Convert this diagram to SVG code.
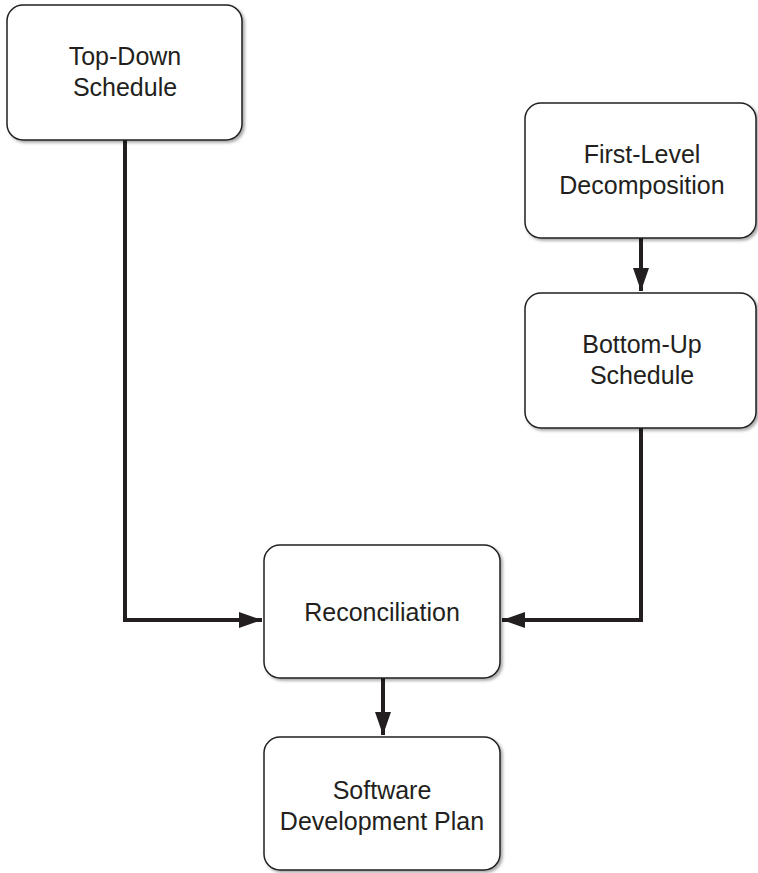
<svg xmlns="http://www.w3.org/2000/svg" width="758" height="873" viewBox="0 0 758 873">
<style>
.box{fill:#ffffff;stroke:#231f20;stroke-width:1.5;filter:url(#sh)}
.lbl{font-family:"Liberation Sans",Arial,sans-serif;font-size:25px;fill:#231f20;text-anchor:middle}
.conn{fill:none;stroke:#231f20;stroke-width:4;stroke-linejoin:miter}
</style>
<defs>
<filter id="sh" x="-10%" y="-10%" width="125%" height="125%">
<feDropShadow dx="2" dy="2" stdDeviation="1.8" flood-color="#000" flood-opacity="0.35"/>
</filter>
<marker id="ah" markerUnits="userSpaceOnUse" markerWidth="24" markerHeight="16" refX="23" refY="8" orient="auto">
<path d="M0,0 L23,8 L0,16 Z" fill="#231f20"/>
</marker>
</defs>
<g id="connectors">
<path class="conn" d="M125,140 V620 H262" marker-end="url(#ah)"/>
<path class="conn" d="M641,428 V620 H502" marker-end="url(#ah)"/>
<path class="conn" d="M641,238 V291" marker-end="url(#ah)"/>
<path class="conn" d="M383,678 V735" marker-end="url(#ah)"/>
</g>
<g id="top-down">
<rect class="box" x="7" y="5" width="235" height="135" rx="16"/>
<text class="lbl" x="125" y="65">Top-Down</text>
<text class="lbl" x="125" y="96">Schedule</text>
</g>
<g id="first-level">
<rect class="box" x="525" y="103" width="231" height="135" rx="16"/>
<text class="lbl" x="642" y="163">First-Level</text>
<text class="lbl" x="642" y="194">Decomposition</text>
</g>
<g id="bottom-up">
<rect class="box" x="525" y="293" width="231" height="135" rx="16"/>
<text class="lbl" x="642" y="353">Bottom-Up</text>
<text class="lbl" x="642" y="384">Schedule</text>
</g>
<g id="reconciliation">
<rect class="box" x="264" y="545" width="236" height="133" rx="16"/>
<text class="lbl" x="382" y="621">Reconciliation</text>
</g>
<g id="sdp">
<rect class="box" x="264" y="737" width="236" height="133" rx="16"/>
<text class="lbl" x="382" y="799">Software</text>
<text class="lbl" x="382" y="830">Development Plan</text>
</g>
</svg>
